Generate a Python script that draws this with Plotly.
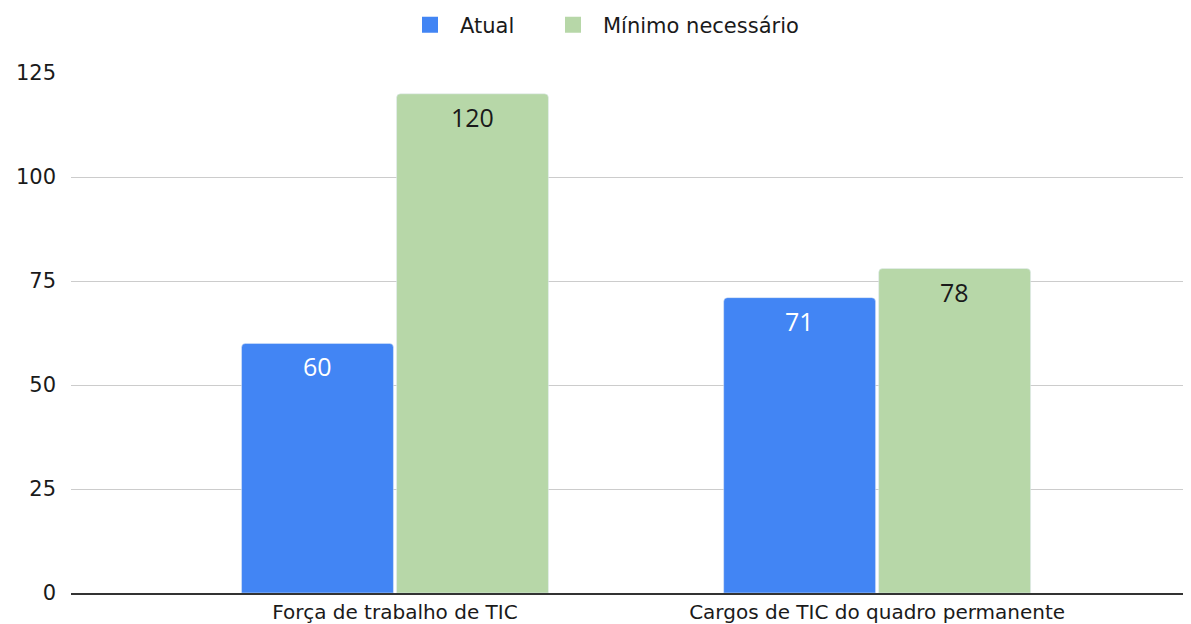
import plotly.graph_objects as go

categories = ["Força de trabalho de TIC", "Cargos de TIC do quadro permanente"]
atual = [60, 71]
minimo = [120, 78]
series_names = ["Atual", "Mínimo necessário"]
y_ticks = [0, 25, 50, 75, 100, 125]

BLUE = "#4285F4"
GREEN = "#B7D7A8"

x_pos = list(range(len(categories)))

fig = go.Figure()
fig.add_trace(go.Bar(x=x_pos, y=atual, name=series_names[0], marker_color=BLUE,
                     showlegend=False, hoverinfo="skip"))
fig.add_trace(go.Bar(x=x_pos, y=minimo, name=series_names[1], marker_color=GREEN,
                     showlegend=False, hoverinfo="skip"))
# legend entries (one legend box per series to match spacing)
for name, col, lg in zip(series_names, [BLUE, GREEN], ["legend", "legend2"]):
    fig.add_trace(go.Scatter(x=[None], y=[None], mode="markers", name=name,
                             legend=lg,
                             marker=dict(symbol="square", size=20, color=col)))

# data labels inside bars near top
bw = 0.643 / 2
for vals, off, fc in [(atual, -bw / 2, "white"), (minimo, bw / 2, "#1a1a1a")]:
    for xi, v in zip(x_pos, vals):
        fig.add_annotation(x=xi + off, y=v, text=str(v), showarrow=False,
                           yanchor="middle", yshift=-23,
                           font=dict(family="Open Sans", size=25, color=fc))

leg_common = dict(orientation="h", xanchor="left", y=1.092, yanchor="middle",
                  font=dict(family="DejaVu Sans", size=21, color="#1a1a1a"),
                  itemwidth=50, bgcolor="rgba(0,0,0,0)")

fig.update_layout(
    width=1191, height=624,
    margin=dict(l=63, r=8, t=65, b=39, autoexpand=False),
    paper_bgcolor="white", plot_bgcolor="white",
    barmode="group", bargap=0.357, bargroupgap=0.02, barcornerradius=4,
    font=dict(family="DejaVu Sans", size=20, color="#1a1a1a"),
    legend=dict(x=(462 - 62 - 71) / 1120, **leg_common),
    legend2=dict(x=(605 - 62 - 71) / 1120, **leg_common),
    xaxis=dict(range=[-0.672, 1.651], tickmode="array", tickvals=x_pos,
               ticktext=categories, showgrid=False, showline=True,
               linecolor="#333333", linewidth=2, ticks="", ticklen=0,
               zeroline=False,
               tickfont=dict(family="DejaVu Sans", size=20, color="#1a1a1a"),
               ticklabelstandoff=0, automargin=False, fixedrange=True),
    yaxis=dict(range=[0, 125], tickmode="array", tickvals=y_ticks,
               showgrid=True, gridcolor="#CCCCCC", gridwidth=1, zeroline=False,
               ticks="", ticklabelstandoff=14, automargin=False,
               tickfont=dict(family="DejaVu Sans", size=21, color="#1a1a1a"),
               fixedrange=True),
)

fig.write_html("out.html")
